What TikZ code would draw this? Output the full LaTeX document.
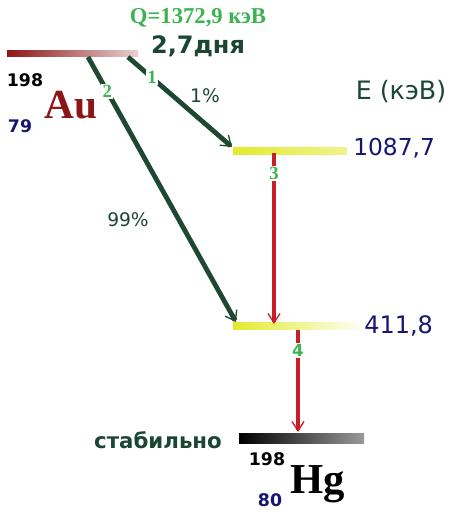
\documentclass[tikz,border=0pt]{standalone}
\usepackage{fontspec}
\setmainfont{DejaVu Sans}
\newfontfamily\timesfont{Liberation Serif}
\usetikzlibrary{arrows.meta}

\definecolor{auRed}{RGB}{140,22,22}
\definecolor{qGreen}{RGB}{60,178,80}
\definecolor{darkGreen}{RGB}{26,70,50}
\definecolor{arrowGreen}{RGB}{30,72,50}
\definecolor{darkBlue}{RGB}{22,22,112}
\definecolor{decayRed}{RGB}{200,30,40}
\definecolor{lvlYellow}{RGB}{225,235,45}

\tikzset{
  decay/.style={line width=3.6pt, arrowGreen,
    -{Straight Barb[length=7pt,width=10pt,line width=1pt]}},
  gamma/.style={line width=3pt, decayRed,
    -{Straight Barb[length=7pt,width=9pt,line width=1pt]}},
  lbl/.style={fill=white, inner sep=1pt, text=qGreen, font=\timesfont\bfseries\fontsize{14}{14}\selectfont}
}

\begin{document}
\begin{tikzpicture}[x=0.75pt,y=0.75pt,yscale=-1,xscale=1]
\useasboundingbox (0,0) rectangle (456,529);
% levels
\shade[left color=auRed, right color=auRed!20]   (7,50) rectangle (138,56);
\shade[left color=lvlYellow, right color=lvlYellow!55] (233,147) rectangle (347,154);
\shade[left color=lvlYellow, right color=lvlYellow!5]  (233,322) rectangle (360,329);
\shade[left color=black, right color=black!40]   (239,433) rectangle (364,443);

\coordinate (a1) at (128,57);
\coordinate (a2) at (88,57);
\coordinate (e1) at (232,147);
\coordinate (e2) at (236,322);
\coordinate (g3s) at (274,153);
\coordinate (g3e) at (274,324);
\coordinate (g4s) at (298,330);
\coordinate (g4e) at (298,432);

\draw[decay] (a1) -- (e1) node[lbl, pos=0.23] {1};
\draw[decay] (a2) -- (e2) node[lbl, pos=0.13] {2};
\draw[gamma] (g3s) -- (g3e) node[lbl, pos=0.12] {3};
\draw[gamma] (g4s) -- (g4e) node[lbl, pos=0.2, font=\bfseries\fontsize{12.5}{12.5}\selectfont] {4};

% Text Node
\draw (198,18) node [inner sep=0.75pt] (qval) {\timesfont\bfseries\fontsize{17}{17}\selectfont\color{qGreen}Q=1372,9 кэВ};
% Text Node
\draw (198,46) node [inner sep=0.75pt] (halflife) {\bfseries\fontsize{18}{18}\selectfont\color{darkGreen}2,7дня};
% Text Node
\draw (25,80) node [inner sep=0.75pt] (auA) {\bfseries\fontsize{13}{13}\selectfont 198};
\draw (43,118) node [anchor=base west] [inner sep=0.75pt] (au) {\timesfont\bfseries\fontsize{31}{31}\selectfont\color{auRed}Au};
\draw (20,126) node [inner sep=0.75pt] (auZ) {\bfseries\fontsize{13}{13}\selectfont\color{darkBlue}79};
% Text Node
\draw (205,96) node [inner sep=0.75pt] (br1) {\fontsize{14}{14}\selectfont\color{darkGreen}1\%};
\draw (128,220) node [inner sep=0.75pt] (br2) {\fontsize{14}{14}\selectfont\color{darkGreen}99\%};
% Text Node
\draw (401,92) node [inner sep=0.75pt] (eaxis) {\fontsize{19}{19}\selectfont\color{darkGreen}E (кэВ)};
\draw (352,148) node [anchor=west] [inner sep=0.75pt] (lvlA) {\fontsize{17.5}{18}\selectfont\color{darkBlue}1087,7};
\draw (363,326) node [anchor=west] [inner sep=0.75pt] (lvlB) {\fontsize{18}{18}\selectfont\color{darkBlue}411,8};
% Text Node
\draw (158,440) node [inner sep=0.75pt] (stable) {\bfseries\fontsize{16}{16}\selectfont\color{darkGreen}стабильно};
\draw (267,459) node [inner sep=0.75pt] (hgA) {\bfseries\fontsize{13}{13}\selectfont 198};
\draw (289,493) node [anchor=base west] [inner sep=0.75pt] (hg) {\timesfont\bfseries\fontsize{32}{32}\selectfont Hg};
\draw (270,500) node [inner sep=0.75pt] (hgZ) {\bfseries\fontsize{13}{13}\selectfont\color{darkBlue}80};
\end{tikzpicture}
\end{document}
